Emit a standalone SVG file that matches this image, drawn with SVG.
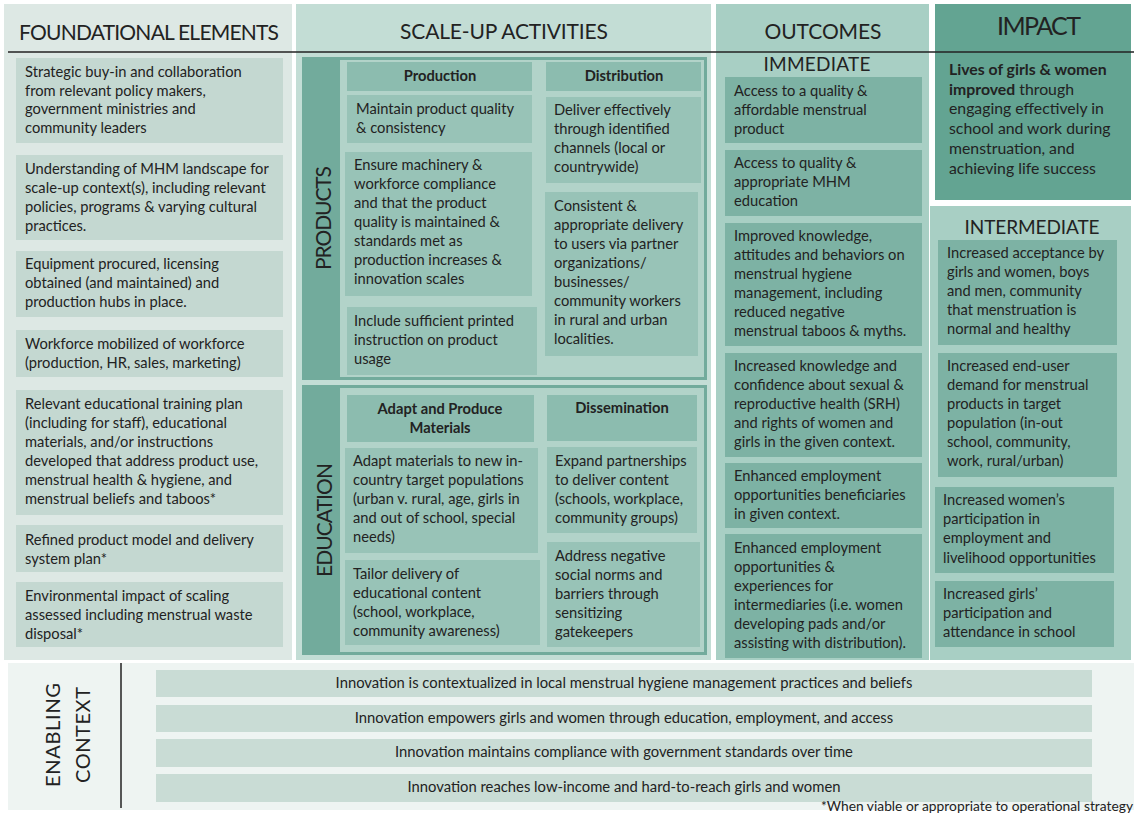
<svg xmlns="http://www.w3.org/2000/svg" width="1134" height="814" viewBox="0 0 1134 814">
<style>
text{font-family:Lato,"Liberation Sans",Arial,sans-serif;fill:#222}
.t{font-size:14.7px}
.tb{font-size:14.7px;font-weight:bold}
.h{font-size:21px}
.h2{font-size:19px}
.imp{font-size:15.8px}
.en{font-size:14.8px;text-anchor:middle}
.c{text-anchor:middle}
.fcol{fill:#dde8e4}
.fbox{fill:#c4d8d1}
.scol{fill:#c3ddd5}
.frame{fill:#72ab9c}
.inner{fill:#b2d3c9}
.hdr{fill:#8cbcaf}
.sbox{fill:#98c3b7}
.ocol{fill:#a8cfc4}
.obox{fill:#7db2a4}
.icol{fill:#63a492}
.bar{fill:#c9dcd5}
</style>
<rect width="1134" height="814" fill="#ffffff"/>

<g id="foundational">
<rect class="fcol" x="4" y="4" width="288" height="656"/>
<text class="h c" x="149" y="40" textLength="260">FOUNDATIONAL ELEMENTS</text>
<g id="f1"><rect class="fbox" x="16" y="58" width="267" height="85"/>
<text class="t"><tspan x="25" y="77">Strategic buy-in and collaboration</tspan><tspan x="25" y="95.5">from relevant policy makers,</tspan><tspan x="25" y="114">government ministries and</tspan><tspan x="25" y="132.5">community leaders</tspan></text></g>
<g id="f2"><rect class="fbox" x="16" y="155" width="267" height="85"/>
<text class="t"><tspan x="25" y="174">Understanding of MHM landscape for</tspan><tspan x="25" y="193">scale-up context(s), including relevant</tspan><tspan x="25" y="212">policies,  programs &amp; varying cultural</tspan><tspan x="25" y="231">practices.</tspan></text></g>
<g id="f3"><rect class="fbox" x="16" y="251" width="267" height="66"/>
<text class="t"><tspan x="25" y="269">Equipment procured, licensing</tspan><tspan x="25" y="288">obtained (and maintained) and</tspan><tspan x="25" y="307">production hubs in place.</tspan></text></g>
<g id="f4"><rect class="fbox" x="16" y="330" width="267" height="47"/>
<text class="t"><tspan x="25" y="349">Workforce mobilized of workforce</tspan><tspan x="25" y="368">(production, HR, sales, marketing)</tspan></text></g>
<g id="f5"><rect class="fbox" x="16" y="390" width="267" height="125"/>
<text class="t"><tspan x="25" y="409">Relevant educational training plan</tspan><tspan x="25" y="428">(including for staff), educational</tspan><tspan x="25" y="447">materials, and/or instructions</tspan><tspan x="25" y="466">developed that address product use,</tspan><tspan x="25" y="485">menstrual health &amp; hygiene, and</tspan><tspan x="25" y="504">menstrual beliefs and taboos*</tspan></text></g>
<g id="f6"><rect class="fbox" x="16" y="525" width="267" height="47"/>
<text class="t"><tspan x="25" y="545">Refined product model and delivery</tspan><tspan x="25" y="564">system plan*</tspan></text></g>
<g id="f7"><rect class="fbox" x="16" y="582" width="267" height="65"/>
<text class="t"><tspan x="25" y="601">Environmental impact of scaling</tspan><tspan x="25" y="620">assessed including menstrual waste</tspan><tspan x="25" y="639">disposal*</tspan></text></g>
</g>

<g id="scaleup">
<rect class="scol" x="296" y="4" width="415" height="656"/>
<text class="h c" x="504" y="39" textLength="208">SCALE-UP ACTIVITIES</text>
<g id="products">
<rect class="frame" x="302" y="57" width="405" height="323"/>
<rect class="inner" x="340" y="60" width="364" height="317"/>
<text class="h" transform="translate(331 218) rotate(-90)" text-anchor="middle" textLength="104">PRODUCTS</text>
<g id="p-production"><rect class="hdr" x="347" y="62" width="185" height="29"/><text class="tb c" x="440" y="81">Production</text></g>
<g id="p-distribution"><rect class="hdr" x="546" y="62" width="155" height="29"/><text class="tb c" x="624" y="81">Distribution</text></g>
<g id="p1"><rect class="sbox" x="347" y="95" width="185" height="48"/>
<text class="t"><tspan x="356" y="114">Maintain product quality</tspan><tspan x="356" y="133">&amp; consistency</tspan></text></g>
<g id="p2"><rect class="sbox" x="345" y="152" width="187" height="144"/>
<text class="t"><tspan x="354" y="170">Ensure machinery &amp;</tspan><tspan x="354" y="189">workforce compliance</tspan><tspan x="354" y="208">and that the product</tspan><tspan x="354" y="227">quality is maintained &amp;</tspan><tspan x="354" y="246">standards met as</tspan><tspan x="354" y="265">production increases &amp;</tspan><tspan x="354" y="284">innovation scales</tspan></text></g>
<g id="p3"><rect class="sbox" x="347" y="307" width="190" height="68"/>
<text class="t"><tspan x="354" y="326">Include sufficient printed</tspan><tspan x="354" y="345">instruction on product</tspan><tspan x="354" y="364">usage</tspan></text></g>
<g id="p4"><rect class="sbox" x="546" y="97" width="155" height="86"/>
<text class="t"><tspan x="554" y="115">Deliver effectively</tspan><tspan x="554" y="134">through identified</tspan><tspan x="554" y="153">channels (local or</tspan><tspan x="554" y="172">countrywide)</tspan></text></g>
<g id="p5"><rect class="sbox" x="545" y="192" width="153" height="164"/>
<text class="t"><tspan x="554" y="211">Consistent &amp;</tspan><tspan x="554" y="230">appropriate delivery</tspan><tspan x="554" y="249">to users via partner</tspan><tspan x="554" y="268">organizations/</tspan><tspan x="554" y="287">businesses/</tspan><tspan x="554" y="306">community workers</tspan><tspan x="554" y="325">in rural and urban</tspan><tspan x="554" y="344">localities.</tspan></text></g>
</g>
<g id="education">
<rect class="frame" x="302" y="385" width="405" height="270"/>
<rect class="inner" x="340" y="388" width="364" height="264"/>
<text class="h" transform="translate(332 520) rotate(-90)" text-anchor="middle" textLength="114">EDUCATION</text>
<g id="e-adapt"><rect class="hdr" x="347" y="395" width="187" height="47"/>
<text class="tb c"><tspan x="440" y="414">Adapt and Produce</tspan><tspan x="440" y="433">Materials</tspan></text></g>
<g id="e-dissemination"><rect class="hdr" x="547" y="395" width="150" height="46"/><text class="tb c" x="622" y="413">Dissemination</text></g>
<g id="e1"><rect class="sbox" x="345" y="448" width="193" height="105"/>
<text class="t"><tspan x="353" y="466">Adapt materials to new in-</tspan><tspan x="353" y="485">country target populations</tspan><tspan x="353" y="504">(urban v. rural, age, girls in</tspan><tspan x="353" y="523">and out of school, special</tspan><tspan x="353" y="542">needs)</tspan></text></g>
<g id="e2"><rect class="sbox" x="345" y="560" width="195" height="85"/>
<text class="t"><tspan x="353" y="579">Tailor delivery of</tspan><tspan x="353" y="598">educational content</tspan><tspan x="353" y="617">(school, workplace,</tspan><tspan x="353" y="636">community awareness)</tspan></text></g>
<g id="e3"><rect class="sbox" x="547" y="447" width="150" height="86"/>
<text class="t"><tspan x="555" y="466">Expand partnerships</tspan><tspan x="555" y="485">to deliver content</tspan><tspan x="555" y="504">(schools, workplace,</tspan><tspan x="555" y="523">community groups)</tspan></text></g>
<g id="e4"><rect class="sbox" x="547" y="542" width="153" height="105"/>
<text class="t"><tspan x="555" y="561">Address negative</tspan><tspan x="555" y="580">social norms and</tspan><tspan x="555" y="599">barriers through</tspan><tspan x="555" y="618">sensitizing</tspan><tspan x="555" y="637">gatekeepers</tspan></text></g>
</g>
</g>

<g id="outcomes">
<rect class="ocol" x="716" y="4" width="213" height="656"/>
<text class="h c" x="823" y="39" textLength="117">OUTCOMES</text>
<text class="h2 c" x="817" y="71" textLength="107">IMMEDIATE</text>
<g id="o1"><rect class="obox" x="725" y="77" width="197" height="66"/>
<text class="t"><tspan x="734" y="96">Access to a quality &amp;</tspan><tspan x="734" y="115">affordable menstrual</tspan><tspan x="734" y="134">product</tspan></text></g>
<g id="o2"><rect class="obox" x="725" y="150" width="197" height="66"/>
<text class="t"><tspan x="734" y="168">Access to quality &amp;</tspan><tspan x="734" y="187">appropriate MHM</tspan><tspan x="734" y="206">education</tspan></text></g>
<g id="o3"><rect class="obox" x="725" y="223" width="197" height="123"/>
<text class="t"><tspan x="734" y="241">Improved knowledge,</tspan><tspan x="734" y="260">attitudes and behaviors on</tspan><tspan x="734" y="279">menstrual hygiene</tspan><tspan x="734" y="298">management, including</tspan><tspan x="734" y="317">reduced negative</tspan><tspan x="734" y="336">menstrual taboos &amp; myths.</tspan></text></g>
<g id="o4"><rect class="obox" x="725" y="353" width="197" height="104"/>
<text class="t"><tspan x="734" y="371">Increased knowledge and</tspan><tspan x="734" y="390">confidence about sexual &amp;</tspan><tspan x="734" y="409">reproductive health (SRH)</tspan><tspan x="734" y="428">and rights of women and</tspan><tspan x="734" y="447">girls in the given context.</tspan></text></g>
<g id="o5"><rect class="obox" x="725" y="463" width="197" height="65"/>
<text class="t"><tspan x="734" y="481">Enhanced employment</tspan><tspan x="734" y="500">opportunities beneficiaries</tspan><tspan x="734" y="519">in given context.</tspan></text></g>
<g id="o6"><rect class="obox" x="725" y="534" width="197" height="124"/>
<text class="t"><tspan x="734" y="553">Enhanced employment</tspan><tspan x="734" y="572">opportunities &amp;</tspan><tspan x="734" y="591">experiences for</tspan><tspan x="734" y="610">intermediaries (i.e. women</tspan><tspan x="734" y="629">developing pads and/or</tspan><tspan x="734" y="648">assisting with distribution).</tspan></text></g>
</g>

<g id="impact">
<rect class="icol" x="935" y="4" width="196" height="196"/>
<text class="c" x="1039" y="35" font-size="25" textLength="84">IMPACT</text>
<text class="imp"><tspan x="949" y="75" font-weight="bold">Lives of girls &amp; women</tspan><tspan x="949" y="94.5" font-weight="bold">improved</tspan><tspan> through</tspan><tspan x="949" y="114">engaging effectively in</tspan><tspan x="949" y="134">school and work during</tspan><tspan x="949" y="154">menstruation, and</tspan><tspan x="949" y="174">achieving life success</tspan></text>
</g>

<g id="intermediate">
<rect class="ocol" x="930" y="206" width="201" height="454"/>
<text class="h2 c" x="1032" y="234" textLength="135">INTERMEDIATE</text>
<g id="i1"><rect class="obox" x="938" y="240" width="179" height="105"/>
<text class="t"><tspan x="947" y="258">Increased acceptance by</tspan><tspan x="947" y="277">girls and women, boys</tspan><tspan x="947" y="296">and men, community</tspan><tspan x="947" y="315">that menstruation is</tspan><tspan x="947" y="334">normal and healthy</tspan></text></g>
<g id="i2"><rect class="obox" x="938" y="353" width="179" height="124"/>
<text class="t"><tspan x="947" y="371">Increased end-user</tspan><tspan x="947" y="390">demand for menstrual</tspan><tspan x="947" y="409">products in target</tspan><tspan x="947" y="428">population (in-out</tspan><tspan x="947" y="447">school, community,</tspan><tspan x="947" y="466">work, rural/urban)</tspan></text></g>
<g id="i3"><rect class="obox" x="935" y="487" width="179" height="86"/>
<text class="t"><tspan x="943" y="505">Increased women’s</tspan><tspan x="943" y="524">participation in</tspan><tspan x="943" y="543">employment and</tspan><tspan x="943" y="563">livelihood opportunities</tspan></text></g>
<g id="i4"><rect class="obox" x="935" y="581" width="179" height="66"/>
<text class="t"><tspan x="943" y="599">Increased girls’</tspan><tspan x="943" y="618">participation and</tspan><tspan x="943" y="637">attendance in school</tspan></text></g>
</g>

<g id="rules">
<line x1="8" y1="52" x2="1134" y2="52" stroke="#222" stroke-width="1.5"/>
</g>

<g id="enabling">
<rect x="8" y="663" width="1126" height="147" fill="#eef4f2"/>
<line x1="121" y1="663" x2="121" y2="808" stroke="#222" stroke-width="1.5"/>
<text class="c" font-size="20" transform="translate(60 735) rotate(-90)" textLength="104">ENABLING</text>
<text class="c" font-size="20" transform="translate(90 735) rotate(-90)" textLength="96">CONTEXT</text>
<g id="b1"><rect class="bar" x="156" y="670" width="936" height="27"/><text class="en" x="624" y="688">Innovation is contextualized in local menstrual hygiene management practices and beliefs</text></g>
<g id="b2"><rect class="bar" x="156" y="705" width="936" height="27"/><text class="en" x="624" y="723">Innovation empowers girls and women through education, employment, and access</text></g>
<g id="b3"><rect class="bar" x="156" y="739" width="936" height="28"/><text class="en" x="624" y="757">Innovation maintains compliance with government standards over time</text></g>
<g id="b4"><rect class="bar" x="156" y="774" width="936" height="28"/><text class="en" x="624" y="792">Innovation reaches low-income and hard-to-reach girls and women</text></g>
<text x="1133" y="811" font-size="13.8" text-anchor="end">*When viable or appropriate to operational strategy</text>
</g>
</svg>
